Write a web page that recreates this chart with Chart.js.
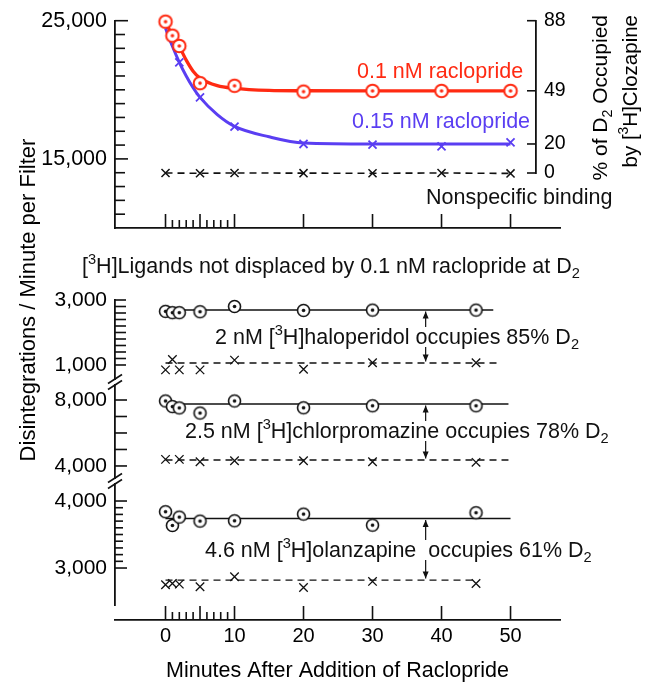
<!DOCTYPE html>
<html>
<head>
<meta charset="utf-8">
<script src="https://cdn.jsdelivr.net/npm/chart.js@4"></script>
<style>
  html, body { margin: 0; padding: 0; background: #fff; }
</style>
</head>
<body>
<canvas id="fig" width="654" height="683"></canvas>
<script>
// ---- data ----
// top panel: [3H]clozapine binding vs time after raclopride
let topMinutes = [0, 1, 2, 5, 10, 20, 30, 40, 50];
let raclo01 = [24930, 23920, 23170, 20480, 20290, 19870, 19920, 19920, 19920];
let blueMinutes = [0, 2, 5, 10, 20, 30, 40, 50];
let raclo015 = [24450, 21990, 19450, 17330, 16080, 16030, 15910, 16200];
// fitted curves (sampled off the drawn curves)
let fitMinutes = [0, 1, 2, 3, 4, 5, 7.5, 10, 15, 20, 30, 40, 50];
let fit01 = [24930, 23920, 23130, 22150, 21350, 20850, 20300, 20110, 19960, 19930, 19920, 19920, 19920];
let fit015 = [24450, 23150, 21990, 21000, 20150, 19450, 18200, 17350, 16600, 16150, 16080, 16080, 16080];
let nsMinutes = [0, 5, 10, 20, 30, 40, 50];
let nsTop = [13980, 13960, 13980, 13970, 13960, 13980, 13950];

// bottom panels: ligands not displaced
let ligMinutes = [0, 1, 2, 5, 10, 20, 30, 45];
let halo = [2650, 2610, 2610, 2640, 2800, 2680, 2690, 2690];
let haloNs = [850, 1170, 850, 850, 1150, 870, 1070, 1070];
let chlor = [7940, 7600, 7520, 7210, 7940, 7530, 7650, 7650];
let chlorNsMinutes = [0, 2, 5, 10, 20, 30, 45];
let chlorNs = [4400, 4400, 4260, 4320, 4320, 4260, 4220];
let olan = [3840, 3635, 3760, 3700, 3705, 3805, 3640, 3825];
let olanNs = [2750, 2770, 2760, 2720, 2870, 2710, 2800, 2770];

// horizontal mean lines
let haloLineX = [0, 47.5], haloLine = [2690, 2690];
let haloNsLineX = [0, 48.7], haloNsLine = [1060, 1060];
let chlorLineX = [0, 49.7], chlorLine = [7760, 7760];
let chlorNsLineX = [0, 49.7], chlorNsLine = [4360, 4360];
let olanLineX = [0, 50], olanLine = [3740, 3740];
let olanNsLineX = [0, 45], olanNsLine = [2820, 2820];

// tick labels
let minuteTicks = [0, 10, 20, 30, 40, 50];
let topTicks = [15000, 25000];
let occAt = [25000, 19930, 16080, 13980];
let occLabels = ['88', '49', '20', '0'];
let haloTicks = [1000, 3000];
let chlorTicks = [4000, 8000];
let olanTicks = [3000, 4000];
let arrowMinute = 37.7;

// ---- layout ----
const red = '#ff2a12';
const blue = '#5a3ef2';
const ink = '#111';
const FONT = '"Liberation Sans", Arial, sans-serif';

const boxes = {
  x:    {left: 115, right: 560, top: 620, bottom: 684},
  xTop: {left: 115, right: 560, top: 228, bottom: 240},
  yTop: {left: 0, right: 115, top: 20.7, bottom: 228},
  yR:   {left: 536, right: 654, top: 20.7, bottom: 173},
  yHal: {left: 0, right: 115, top: 300, bottom: 379},
  yChl: {left: 0, right: 115, top: 385, bottom: 478},
  yOla: {left: 0, right: 115, top: 484, bottom: 605}
};

function range(a, b, step) {
  let out = [];
  for (let v = a; v <= b + 1e-9; v += step) out.push(Math.round(v * 100) / 100);
  return out;
}
const minuteMarks = range(0, 10, 1).concat([20, 30, 40, 50]);
const tickMarks = [
  {id: 'yTop', vals: range(11000, 25000, 1000), len: v => topTicks.includes(v) ? 13 : 10},
  {id: 'yR', vals: occAt, len: () => 9},
  {id: 'yHal', vals: range(1000, 3000, 200), len: () => 11},
  {id: 'yChl', vals: range(4000, 8000, 1000), len: () => 12},
  {id: 'yOla', vals: range(3000, 4000, 100), len: v => olanTicks.includes(v) ? 12 : 8},
  {id: 'xTop', vals: minuteMarks, len: v => v % 5 ? 8 : 14},
  {id: 'x', vals: minuteMarks, len: v => v % 5 ? 8 : 14}
];

const notes = [
  {t: '0.1 nM raclopride', x: 357, y: 78.3, c: red},
  {t: '0.15 nM raclopride', x: 352, y: 127.7, c: blue},
  {t: 'Nonspecific binding', x: 426, y: 204, c: ink},
  {t: '[^3H]Ligands not displaced by 0.1 nM raclopride at D_2', x: 82, y: 273, c: ink},
  {t: '2 nM [^3H]haloperidol occupies 85% D_2', x: 215, y: 344, c: ink},
  {t: '2.5 nM [^3H]chlorpromazine occupies 78% D_2', x: 185, y: 438, c: ink},
  {t: '4.6 nM [^3H]olanzapine  occupies 61% D_2', x: 205, y: 557, c: ink}
];

const arrows = [
  {y: 'yHal', top: haloLine[0], bot: haloNsLine[0], base: 344},
  {y: 'yChl', top: chlorLine[0], bot: chlorNsLine[0], base: 438},
  {y: 'yOla', top: olanLine[0], bot: olanNsLine[0], base: 557}
];

// ---- markers ----
function dotMarker(color, r, lw) {
  let c = document.createElement('canvas');
  let s = Math.ceil(r * 2 + lw + 3);
  c.width = c.height = s;
  let g = c.getContext('2d');
  g.beginPath();
  g.arc(s / 2, s / 2, r, 0, Math.PI * 2);
  g.fillStyle = '#fff';
  g.fill();
  g.lineWidth = lw;
  g.strokeStyle = color;
  g.stroke();
  g.beginPath();
  g.arc(s / 2, s / 2, 1.8, 0, Math.PI * 2);
  g.fillStyle = color;
  g.fill();
  return c;
}
const redDot = dotMarker(red, 6.3, 2);
const blackDot = dotMarker(ink, 6, 1.6);

const pts = (xs, ys) => xs.map((x, i) => ({x: x, y: ys[i]}));

function marks(xs, ys, yAxisID, style, color, r, bw) {
  return {
    data: pts(xs, ys), yAxisID: yAxisID, showLine: false, clip: false,
    pointStyle: style, pointRadius: r, pointBorderColor: color,
    pointBackgroundColor: '#fff', pointBorderWidth: bw
  };
}
function line(xs, ys, yAxisID, color, width, dash, smooth) {
  return {
    data: pts(xs, ys), yAxisID: yAxisID, clip: false, pointRadius: 0,
    borderColor: color, borderWidth: width, borderDash: dash || [],
    cubicInterpolationMode: smooth ? 'monotone' : 'default'
  };
}

const datasets = [
  // markers first so they sit on top
  marks(topMinutes, raclo01, 'yTop', redDot, red, 7, 0),
  marks(blueMinutes.slice(1), raclo015.slice(1), 'yTop', 'crossRot', blue, 5.7, 1.8),
  marks(nsMinutes, nsTop, 'yTop', 'crossRot', ink, 5.7, 1.5),
  marks(ligMinutes, halo, 'yHal', blackDot, ink, 7, 0),
  marks(ligMinutes, haloNs, 'yHal', 'crossRot', ink, 6, 1.3),
  marks(ligMinutes, chlor, 'yChl', blackDot, ink, 7, 0),
  marks(chlorNsMinutes, chlorNs, 'yChl', 'crossRot', ink, 6, 1.3),
  marks(ligMinutes, olan, 'yOla', blackDot, ink, 7, 0),
  marks(ligMinutes, olanNs, 'yOla', 'crossRot', ink, 6, 1.3),
  line(fitMinutes, fit01, 'yTop', red, 3.3, null, true),
  line(fitMinutes, fit015, 'yTop', blue, 3, null, true),
  line(nsMinutes, nsTop, 'yTop', ink, 1.6, [7, 5]),
  line(haloLineX, haloLine, 'yHal', ink, 1.5),
  line(haloNsLineX, haloNsLine, 'yHal', ink, 1.4, [7, 5]),
  line(chlorLineX, chlorLine, 'yChl', ink, 1.5),
  line(chlorNsLineX, chlorNsLine, 'yChl', ink, 1.4, [7, 5]),
  line(olanLineX, olanLine, 'yOla', ink, 1.5),
  line(olanNsLineX, olanNsLine, 'yOla', ink, 1.4, [7, 5])
];

// ---- scales ----
function yScale(min, max, labels, position, fmt, size) {
  return {
    type: 'linear', position: position, min: min, max: max, bounds: 'data',
    grid: {display: false, drawTicks: false},
    border: {color: ink, width: 1.8},
    afterBuildTicks: s => { s.ticks = labels.map(v => ({value: v})); },
    afterFit: s => { s.width = 0; },
    ticks: {autoSkip: false, padding: 8, color: '#000', font: {size: size}, callback: fmt}
  };
}
const comma = v => v.toLocaleString('en-US');

const scales = {
  x: {
    type: 'linear', position: 'bottom', min: -7.32, max: 57.17, bounds: 'data',
    grid: {display: false, drawTicks: false},
    border: {color: ink, width: 1.8},
    afterBuildTicks: s => { s.ticks = minuteTicks.map(v => ({value: v})); },
    afterFit: s => { s.height = 0; },
    ticks: {autoSkip: false, maxRotation: 0, minRotation: 0, padding: 4, color: '#000', font: {size: 20}},
    title: {display: true, text: 'Minutes After Addition of Raclopride', color: '#000',
            font: {size: 21.5}, padding: {top: 0, bottom: 0}}
  },
  xTop: {
    type: 'linear', position: 'bottom', min: -7.32, max: 57.17, bounds: 'data',
    grid: {display: false, drawTicks: false},
    border: {color: ink, width: 1.8},
    afterFit: s => { s.height = 0; },
    ticks: {display: false}
  },
  yTop: yScale(10000, 25000, topTicks, 'left', comma, 21.5),
  yR: yScale(13980, 25000, occAt, 'right', (v, i) => occLabels[i], 19.5),
  yHal: yScale(569, 3000, haloTicks, 'left', comma, 21),
  yChl: yScale(3270, 8910, chlorTicks, 'left', comma, 21),
  yOla: yScale(2448, 4254, olanTicks, 'left', comma, 21)
};

// put every scale in its own box of the figure
const placeScales = {
  id: 'placeScales',
  afterLayout(chart) {
    Object.entries(boxes).forEach(([id, b]) => {
      let s = chart.scales[id];
      s.left = b.left; s.right = b.right; s.top = b.top; s.bottom = b.bottom;
      s.width = b.right - b.left; s.height = b.bottom - b.top;
      s.configure();
    });
  }
};

function drawRich(ctx, str, x, base, size, align, color) {
  let parts = [];
  for (let i = 0; i < str.length; i++) {
    let ch = str[i];
    if ((ch === '^' || ch === '_') && i + 1 < str.length) {
      parts.push({t: str[++i], k: ch});
    } else if (parts.length && parts[parts.length - 1].k === '') {
      parts[parts.length - 1].t += ch;
    } else {
      parts.push({t: ch, k: ''});
    }
  }
  let small = size * 0.68;
  let w = 0;
  parts.forEach(p => {
    ctx.font = (p.k ? small : size) + 'px ' + FONT;
    p.w = ctx.measureText(p.t).width;
    w += p.w;
  });
  let cx = align === 'center' ? x - w / 2 : align === 'right' ? x - w : x;
  ctx.fillStyle = color;
  ctx.textAlign = 'left';
  ctx.textBaseline = 'alphabetic';
  parts.forEach(p => {
    ctx.font = (p.k ? small : size) + 'px ' + FONT;
    let dy = p.k === '^' ? -size * 0.42 : p.k === '_' ? size * 0.22 : 0;
    ctx.fillText(p.t, cx, base + dy);
    cx += p.w;
  });
}

function drawUp(ctx, str, x, y, size, align) {
  ctx.save();
  ctx.translate(x, y);
  ctx.rotate(-Math.PI / 2);
  drawRich(ctx, str, 0, 0, size, align, '#000');
  ctx.restore();
}

const decorations = {
  id: 'decorations',
  afterDraw(chart) {
    const ctx = chart.ctx;
    ctx.save();
    ctx.strokeStyle = ink;
    ctx.fillStyle = ink;
    ctx.lineWidth = 1.6;

    // inward tick marks
    tickMarks.forEach(tm => {
      let s = chart.scales[tm.id];
      tm.vals.forEach(v => {
        let p = s.getPixelForValue(v);
        let L = tm.len(v);
        ctx.beginPath();
        if (s.isHorizontal()) {
          ctx.moveTo(p, s.top);
          ctx.lineTo(p, s.top - L);
        } else if (s.options.position === 'right') {
          ctx.moveTo(s.left, p);
          ctx.lineTo(s.left - L, p);
        } else {
          ctx.moveTo(s.right, p);
          ctx.lineTo(s.right + L, p);
        }
        ctx.stroke();
      });
    });

    // axis breaks
    [boxes.yHal.bottom, boxes.yChl.top, boxes.yChl.bottom, boxes.yOla.top].forEach(y => {
      ctx.beginPath();
      ctx.moveTo(108, y + 4.5);
      ctx.lineTo(122, y - 4.5);
      ctx.stroke();
    });

    // double arrows between specific and nonspecific lines
    const xs = chart.scales.x;
    const ax = xs.getPixelForValue(arrowMinute);
    arrows.forEach(a => {
      let ys = chart.scales[a.y];
      let yt = ys.getPixelForValue(a.top) + 1.5;
      let yb = ys.getPixelForValue(a.bot) - 1.5;
      ctx.lineWidth = 1.2;
      ctx.beginPath();
      ctx.moveTo(ax, yt); ctx.lineTo(ax, a.base - 17);
      ctx.moveTo(ax, a.base + 3); ctx.lineTo(ax, yb);
      ctx.stroke();
      ctx.beginPath();
      ctx.moveTo(ax, yt); ctx.lineTo(ax - 3, yt + 7); ctx.lineTo(ax + 3, yt + 7); ctx.closePath();
      ctx.moveTo(ax, yb); ctx.lineTo(ax - 3, yb - 7); ctx.lineTo(ax + 3, yb - 7); ctx.closePath();
      ctx.fill();
    });

    // annotations
    notes.forEach(n => drawRich(ctx, n.t, n.x, n.y, 21.5, 'left', n.c));

    // axis titles
    drawUp(ctx, 'Disintegrations / Minute per Filter', 35, 300, 22, 'center');
    drawUp(ctx, '% of D_2 Occupied', 607, 15, 21, 'right');
    drawUp(ctx, 'by [^3H]Clozapine', 637, 15, 20.5, 'right');
    ctx.restore();
  }
};

Chart.defaults.font.family = FONT;
Chart.defaults.color = '#000';

new Chart(document.getElementById('fig'), {
  type: 'line',
  data: {datasets: datasets},
  options: {
    responsive: false,
    animation: false,
    events: [],
    layout: {padding: 0},
    plugins: {legend: {display: false}, tooltip: {enabled: false}},
    scales: scales
  },
  plugins: [placeScales, decorations]
});
</script>
</body>
</html>
